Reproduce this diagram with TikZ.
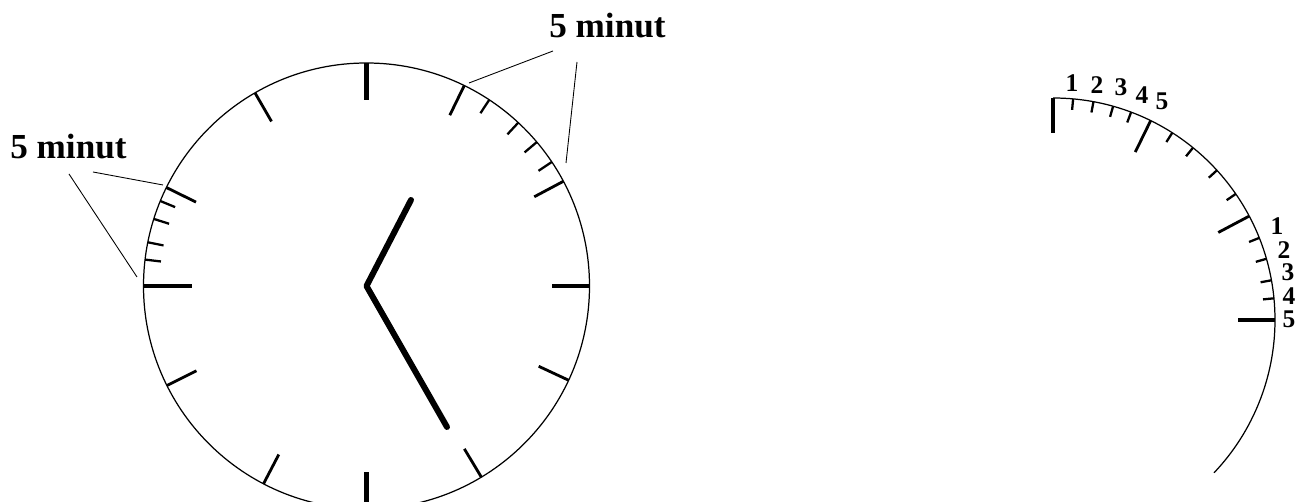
\documentclass[tikz,border=0pt]{standalone}
\usepackage{fontspec}
\setmainfont{Liberation Serif}
\usetikzlibrary{calc}

\begin{document}
\begin{tikzpicture}[x=0.2mm, y=0.2mm,
  rim/.style={line width=0.7pt},
  bigtick/.style={line width=2.8pt},
  hourtick/.style={line width=1.6pt},
  mintick/.style={line width=1.3pt},
  hand/.style={line width=3.4pt, line cap=round, line join=round},
  leader/.style={line width=0.5pt},
  minlabel/.style={font=\fontsize{20}{24}\selectfont\bfseries, inner sep=0pt, anchor=base west},
  numlabel/.style={font=\fontsize{14.5}{16}\selectfont\bfseries, inner sep=0pt}]
\useasboundingbox (0,0) rectangle (1296,502);

% full clock face
\begin{scope}[shift={(366.5,216)}]
  \draw[rim] (0,0) circle (223);
  \foreach \ang/\len in {90/37, 0/38, -90/37, 180/48}
    \draw[bigtick] (\ang:223) -- (\ang:223-\len);
  \foreach \ang in {64, 28, -25, -59, -117.5, -153.5, 153.8, 120}
    \draw[hourtick] (\ang:223) -- (\ang:190);
  \foreach \ang in {56.6, 47.1, 40.2, 33.8, 157.6, 162.5, 168.7, 173.2}
    \draw[mintick] (\ang:223) -- (\ang:207);
  \draw[hand] (44.5,86) -- (0,0) -- (80.5,-141);
\end{scope}

% enlarged quarter
\begin{scope}[shift={(1053,182)}]
  \draw[rim] (90:222) arc[start angle=90, end angle=-43.5, radius=222];
  \foreach \ang/\len in {90/35, 0/37}
    \draw[bigtick] (\ang:222) -- (\ang:222-\len);
  \foreach \ang in {63.9, 27.9}
    \draw[hourtick] (\ang:222) -- (\ang:187);
  \foreach \ang in {84.8, 79.5, 74.3, 69.4, 57.5, 50.9, 42.4, 34.6, 21.7, 16, 10.3, 5.6}
    \draw[mintick] (\ang:222) -- (\ang:211);
\end{scope}

% minute numbers
\foreach \n/\x/\y in {1/1072/419, 2/1097/417, 3/1121/415, 4/1142/407, 5/1162/401}
  \node[numlabel] (top\n) at (\x,\y) {\n};
\foreach \n/\x/\y in {1/1277/276, 2/1284/252, 3/1288/230, 4/1289/206, 5/1289/183}
  \node[numlabel] (side\n) at (\x,\y) {\n};

% labels with leaders
\node[minlabel] (minR) at (549,464) {5 minut};
\node[minlabel] (minL) at (10,343) {5 minut};
\coordinate (r1s) at (553,451);
\coordinate (r1e) at (469,419);
\coordinate (r2s) at (577,440);
\coordinate (r2e) at (566,339);
\coordinate (l1s) at (93,330);
\coordinate (l1e) at (163,317);
\coordinate (l2s) at (69,328);
\coordinate (l2e) at (137,225);
\foreach \a/\b in {r1s/r1e, r2s/r2e, l1s/l1e, l2s/l2e}
  \draw[leader] (\a) -- (\b);
\end{tikzpicture}
\end{document}
